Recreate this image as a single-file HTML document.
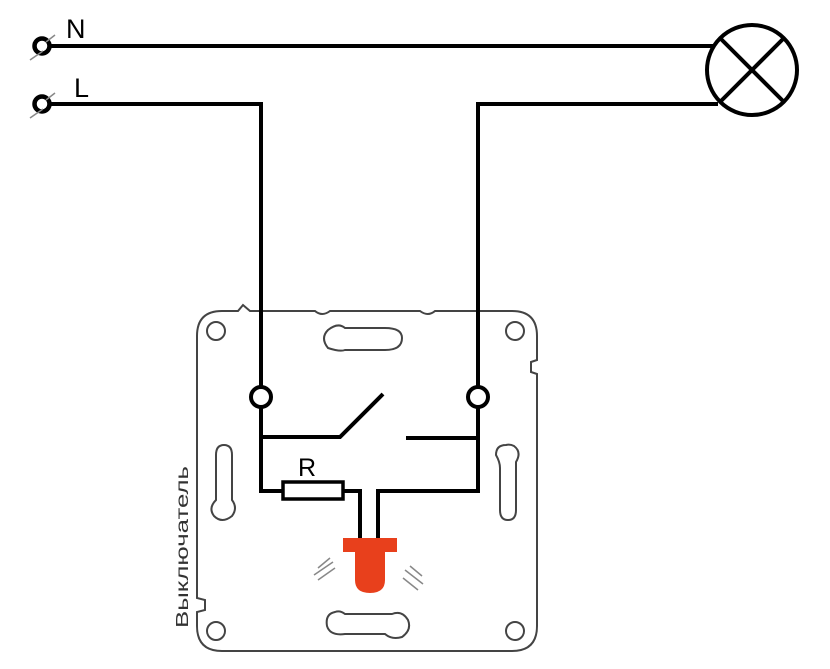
<!DOCTYPE html>
<html><head><meta charset="utf-8"><style>
html,body{margin:0;padding:0;background:#fff;}
svg{display:block}
</style></head><body>
<svg width="830" height="669" viewBox="0 0 830 669" xmlns="http://www.w3.org/2000/svg">
<rect width="830" height="669" fill="#fff"/>
<g fill="none" stroke="#444" stroke-width="2">
<path d="M222,311 L238,311 L243,305 L250,311 L315,311 Q322,317 330,311 L420,311 Q428,317 435,311 L512,311 Q537,311 537,336 L537,360 L531,362 L531,372 L537,374 L537,626 Q537,651 512,651 L222,651 Q197,651 197,626 L197,612 L205,610 L205,600 L197,598 L197,336 Q197,311 222,311 Z"/>
<circle cx="216" cy="331" r="9"/>
<circle cx="515" cy="331" r="9"/>
<circle cx="216" cy="631" r="9"/>
<circle cx="515" cy="631" r="9"/>
<path d="M328,330 Q320,338 328,348 Q340,352 345,350 L385,350 Q402,350 402,338 Q402,328 385,328 L345,328 Q338,322 328,330 Z"/>
<path d="M224,445 Q216,445 216,455 L216,500 Q208,508 214,516 Q222,524 232,516 Q238,508 232,500 L232,455 Q232,445 224,445 Z"/>
<path d="M506,445 Q496,445 496,455 Q500,462 500,468 L500,510 Q500,520 508,520 Q516,520 516,510 L516,462 Q522,452 514,446 Q510,444 506,445 Z"/>
<path d="M335,612 Q325,614 327,626 Q330,636 345,634 L385,634 Q392,640 402,637 Q412,630 408,620 Q402,610 392,614 L345,614 Q340,610 335,612 Z"/>
</g>
<g fill="none" stroke="#000" stroke-width="4">
<line x1="49" y1="46" x2="714" y2="46"/>
<polyline points="49,104 261,104 261,387"/>
<polyline points="718,104 478,104 478,387"/>
<circle cx="752" cy="70" r="45" stroke-width="4"/>
<line x1="720" y1="38" x2="784" y2="102"/>
<line x1="784" y1="38" x2="720" y2="102"/>
<circle cx="42" cy="46" r="7.5" stroke-width="4.5"/>
<circle cx="42" cy="104" r="7.5" stroke-width="4.5"/>
<circle cx="261" cy="397" r="10" fill="#fff"/>
<circle cx="478" cy="397" r="10" fill="#fff"/>
<polyline points="261,407 261,491 282,491"/>
<polyline points="261,437 340,437 383,394"/>
<line x1="406" y1="438" x2="478" y2="438"/>
<polyline points="478,407 478,491 378,491 378,540"/>
<polyline points="343,491 360,491 360,540"/>
<rect x="283" y="482" width="60" height="17" fill="#fff" stroke-width="3.5"/>
</g>
<g stroke="#888" stroke-width="1.5" fill="none">
<line x1="43" y1="51" x2="30" y2="60"/><line x1="55" y1="35" x2="46" y2="42"/>
<line x1="43" y1="109" x2="30" y2="118"/><line x1="55" y1="93" x2="46" y2="100"/>
<line x1="318" y1="568" x2="330" y2="558"/><line x1="314" y1="575" x2="333" y2="562"/><line x1="318" y1="580" x2="335" y2="568"/>
<line x1="410" y1="566" x2="422" y2="576"/><line x1="405" y1="570" x2="423" y2="584"/><line x1="403" y1="578" x2="418" y2="590"/>
</g>
<path d="M343,538 L397,538 L397,552 L385,552 L385,580 Q385,593 370,593 Q355,593 355,580 L355,552 L343,552 Z" fill="#e8401c"/>
<g font-family="Liberation Sans, sans-serif" fill="#000">
<text x="66" y="38" font-size="27">N</text>
<text x="74" y="97" font-size="27">L</text>
<text x="298" y="476" font-size="25">R</text>
<text transform="translate(188,628) rotate(-90)" font-size="17.5" fill="#333" textLength="162" lengthAdjust="spacingAndGlyphs">Выключатель</text>
</g>
</svg>
</body></html>
